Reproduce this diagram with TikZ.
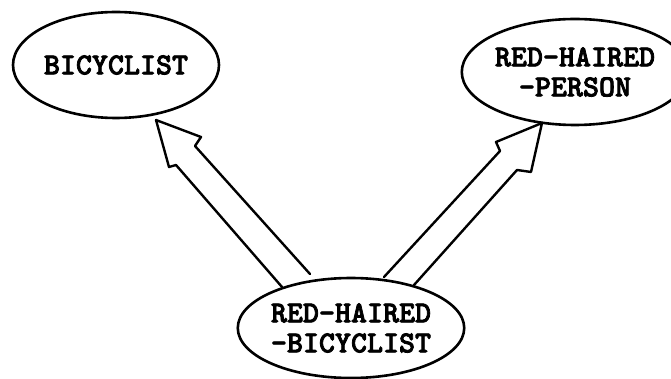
\documentclass[tikz,border=0pt]{standalone}
\usepackage{fontspec}
\newfontfamily\tyfont{lmmonolt10-bold.otf}[FakeBold=2.5]
\usetikzlibrary{shapes.geometric}
\begin{document}
\begin{tikzpicture}[x=1pt,y=-1pt,
  concept/.style={ellipse,draw,line width=2.6pt,inner sep=0pt,
    font=\tyfont\fontsize{30.5}{30}\selectfont,align=center},
  isa/.style={draw,line width=2.4pt,line join=round,line cap=round}]
\useasboundingbox (0,0) rectangle (671,379);

% concept frames
\node[concept,minimum width=206pt,minimum height=106pt] (bicyclist) at (116,65) {BICYCLIST};
\node[concept,minimum width=194pt,minimum height=106pt] (person) at (575,72) {RED-HAIRED\\-PERSON};
\node[concept,minimum width=206pt,minimum height=100pt] (redbike) at (351,328) {RED-HAIRED\\-BICYCLIST};

% hollow IS-A arrow to BICYCLIST
\coordinate (la1) at (282,287);
\coordinate (la2) at (310,274);
\coordinate (ltip) at (156,120);
\draw[isa] (la1) -- (176,165) -- (169,167) -- (ltip) -- (201,137) -- (195,146) -- (la2);

% hollow IS-A arrow to RED-HAIRED-PERSON
\coordinate (ra1) at (384,277);
\coordinate (ra2) at (414,285);
\coordinate (rtip) at (542,123);
\draw[isa] (ra1) -- (500,151) -- (496,142) -- (rtip) -- (531,172) -- (517,170) -- (ra2);
\end{tikzpicture}
\end{document}
